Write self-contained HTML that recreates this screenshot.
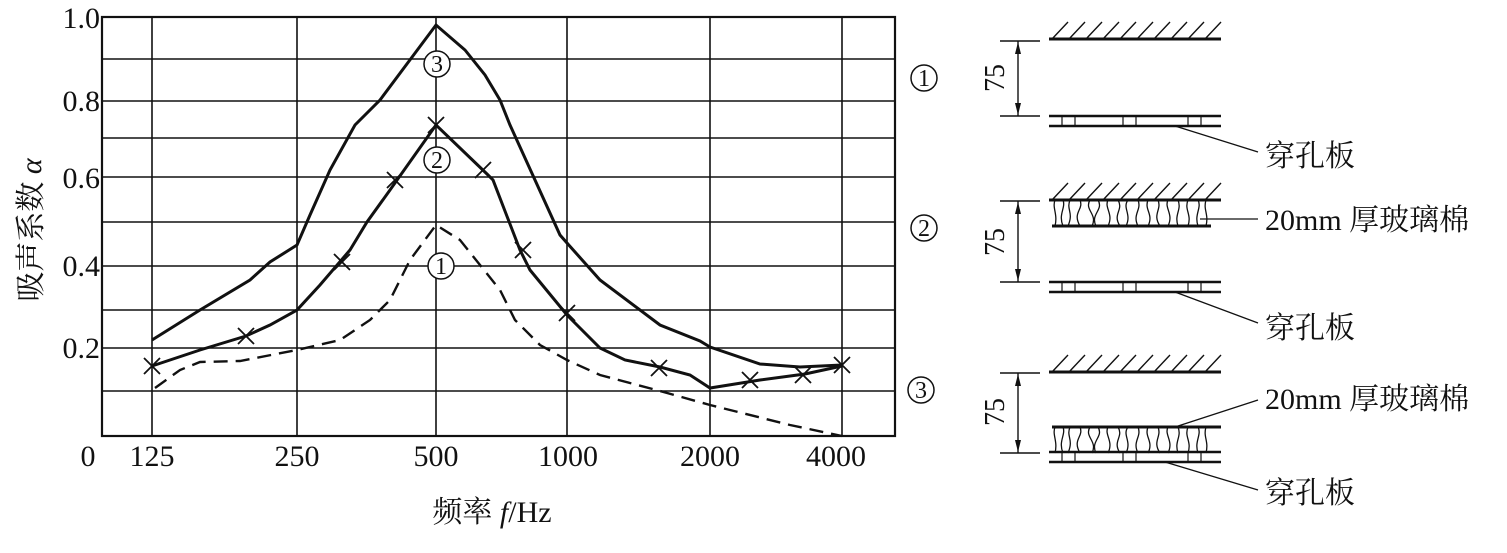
<!DOCTYPE html>
<html><head><meta charset="utf-8"><style>
html,body{margin:0;padding:0;background:#fff}
svg{display:block}
text{font-family:"Liberation Serif","Noto Serif CJK SC","Noto Sans CJK SC",serif;fill:#111}
</style></head><body>
<svg width="1507" height="553" viewBox="0 0 1507 553" xmlns="http://www.w3.org/2000/svg">
<g stroke="#111" fill="none">
<g stroke-width="1.6">
<line x1="102" y1="59" x2="895" y2="59"/>
<line x1="102" y1="101" x2="895" y2="101"/>
<line x1="102" y1="138" x2="895" y2="138"/>
<line x1="102" y1="177" x2="895" y2="177"/>
<line x1="102" y1="222" x2="895" y2="222"/>
<line x1="102" y1="266" x2="895" y2="266"/>
<line x1="102" y1="310" x2="895" y2="310"/>
<line x1="102" y1="348" x2="895" y2="348"/>
<line x1="102" y1="391" x2="895" y2="391"/>
<line x1="152" y1="17" x2="152" y2="436"/>
<line x1="297" y1="17" x2="297" y2="436"/>
<line x1="436" y1="17" x2="436" y2="436"/>
<line x1="567" y1="17" x2="567" y2="436"/>
<line x1="710" y1="17" x2="710" y2="436"/>
<line x1="842" y1="17" x2="842" y2="436"/>
</g>
<rect x="102" y="17" width="793" height="419" stroke-width="2.2"/>
<polyline stroke-width="3" points="152,340 200,310 250,280 270,262 297,245 310,215 330,170 355,125 380,100 436,25 465,50 485,75 500,100 510,125 560,235 567,243 600,280 660,325 700,341 710,347 760,364 800,367 842,365"/>
<polyline stroke-width="3" points="152,366 200,350 246,336 270,325 297,310 320,285 350,250 367,222 390,190 436,125 487,174 493,180 520,250 530,270 567,315 600,348 625,360 660,367 690,375 710,388 760,380 805,374 842,366"/>
<g stroke-width="1.8">
<path d="M144,358l16,16M160,358l-16,16"/>
<path d="M238,328l16,16M254,328l-16,16"/>
<path d="M334,254l16,16M350,254l-16,16"/>
<path d="M387,172l16,16M403,172l-16,16"/>
<path d="M428,117l16,16M444,117l-16,16"/>
<path d="M475,162l16,16M491,162l-16,16"/>
<path d="M515,242l16,16M531,242l-16,16"/>
<path d="M559,305l16,16M575,305l-16,16"/>
<path d="M651,360l16,16M667,360l-16,16"/>
<path d="M742,372l16,16M758,372l-16,16"/>
<path d="M795,367l16,16M811,367l-16,16"/>
<path d="M834,357l16,16M850,357l-16,16"/>
</g>
<polyline stroke-width="2.4" stroke-dasharray="14,8" points="155,388 180,370 200,362 240,361 297,350 340,340 370,320 390,300 410,260 436,225 460,240 480,265 500,290 515,320 540,345 567,360 600,375 660,391 710,405 790,425 842,436"/>
</g>
<!-- circled labels -->
<g stroke="#111" stroke-width="1.5" fill="#fff">
<circle cx="437" cy="64" r="13"/>
<circle cx="437" cy="160" r="13"/>
<circle cx="441" cy="266" r="13"/>
<circle cx="924" cy="78" r="13"/>
<circle cx="924" cy="228" r="13"/>
<circle cx="921" cy="390" r="13"/>
</g>
<g font-size="24" text-anchor="middle">
<text x="437" y="72">3</text>
<text x="437" y="168">2</text>
<text x="441" y="274">1</text>
<text x="924" y="86">1</text>
<text x="924" y="236">2</text>
<text x="921" y="398">3</text>
</g>
<g font-size="30" text-anchor="end">
<text x="100" y="28">1.0</text>
<text x="100" y="111">0.8</text>
<text x="100" y="188">0.6</text>
<text x="100" y="276">0.4</text>
<text x="100" y="358">0.2</text>
</g>
<g font-size="30" text-anchor="middle">
<text x="88" y="466">0</text>
<text x="152" y="466">125</text>
<text x="297" y="466">250</text>
<text x="436" y="466">500</text>
<text x="568" y="466">1000</text>
<text x="710" y="466">2000</text>
<text x="836" y="466">4000</text>
<text x="492" y="522">频率 <tspan font-style="italic">f</tspan>/Hz</text>
</g>
<text font-size="30" text-anchor="middle" transform="translate(41,230) rotate(-90)">吸声系数 <tspan font-style="italic">α</tspan></text>

<defs>
<g id="hatch" stroke="#111" stroke-width="1.4">
<line x1="1052" y1="39" x2="1068" y2="22"/><line x1="1069" y1="39" x2="1085" y2="22"/><line x1="1086" y1="39" x2="1102" y2="22"/><line x1="1103" y1="39" x2="1119" y2="22"/><line x1="1120" y1="39" x2="1136" y2="22"/><line x1="1137" y1="39" x2="1153" y2="22"/><line x1="1154" y1="39" x2="1170" y2="22"/><line x1="1171" y1="39" x2="1187" y2="22"/><line x1="1188" y1="39" x2="1204" y2="22"/><line x1="1205" y1="39" x2="1221" y2="22"/>
<line x1="1049" y1="39" x2="1221" y2="39" stroke-width="3"/>
</g>
<g id="plate" stroke="#111">
<line x1="1049" y1="116" x2="1221" y2="116" stroke-width="2.4"/>
<line x1="1049" y1="126" x2="1221" y2="126" stroke-width="2.4"/>
<g stroke-width="1.2"><line x1="1062" y1="116" x2="1062" y2="126"/><line x1="1075" y1="116" x2="1075" y2="126"/><line x1="1123" y1="116" x2="1123" y2="126"/><line x1="1136" y1="116" x2="1136" y2="126"/><line x1="1188" y1="116" x2="1188" y2="126"/><line x1="1201" y1="116" x2="1201" y2="126"/></g>
</g>
<g id="wool" stroke="#111" stroke-width="1.3" fill="none">
<path d="M1055,0c-3,8 3,14 0,26 M1063,0c3,8 -5,14 0,26 M1070,0c-4,10 4,12 -2,26 M1080,0c4,10 -8,12 0,26 M1090,0c-6,10 8,14 2,26 M1098,0c6,10 -8,14 -2,26 M1108,0c-4,8 6,14 0,26 M1118,0c6,10 -6,14 2,26 M1128,0c-6,8 4,14 -2,26 M1138,0c4,10 -6,14 0,26 M1148,0c-4,10 6,14 0,26 M1158,0c4,10 -6,14 2,26 M1168,0c-4,8 6,14 0,26 M1178,0c4,10 -4,14 0,26 M1188,0c-4,10 4,14 0,26 M1198,0c4,8 -4,14 0,26 M1206,0c-3,10 3,14 0,26"/>
</g>
</defs>
<g stroke="#111" stroke-width="1.4" fill="#111">
<line x1="1000" y1="41" x2="1040" y2="41"/><line x1="1000" y1="116" x2="1040" y2="116"/><line x1="1018" y1="41" x2="1018" y2="116"/>
<path d="M1018,42l-3,12h6z M1018,115l-3,-12h6z" stroke="none"/>
<line x1="1000" y1="201" x2="1040" y2="201"/><line x1="1000" y1="282" x2="1040" y2="282"/><line x1="1018" y1="201" x2="1018" y2="282"/>
<path d="M1018,202l-3,12h6z M1018,281l-3,-12h6z" stroke="none"/>
<line x1="1000" y1="373" x2="1040" y2="373"/><line x1="1000" y1="453" x2="1040" y2="453"/><line x1="1018" y1="373" x2="1018" y2="453"/>
<path d="M1018,374l-3,12h6z M1018,452l-3,-12h6z" stroke="none"/>
</g>
<use href="#hatch"/><use href="#plate"/>
<text font-size="28" text-anchor="middle" transform="translate(1004,78) rotate(-90)">75</text>
<line x1="1175" y1="126" x2="1258" y2="152" stroke="#111" stroke-width="1.3"/>
<text x="1265" y="166" font-size="30">穿孔板</text>
<g transform="translate(0,161)"><use href="#hatch"/></g>
<line x1="1052" y1="226" x2="1211" y2="226" stroke="#111" stroke-width="3"/>
<g transform="translate(0,200)"><use href="#wool"/></g>
<g transform="translate(0,166)"><use href="#plate"/></g>
<text font-size="28" text-anchor="middle" transform="translate(1004,242) rotate(-90)">75</text>
<line x1="1200" y1="219" x2="1258" y2="219" stroke="#111" stroke-width="1.3"/>
<text x="1265" y="230" font-size="30">20mm 厚玻璃棉</text>
<line x1="1175" y1="292" x2="1258" y2="323" stroke="#111" stroke-width="1.3"/>
<text x="1265" y="338" font-size="30">穿孔板</text>
<g transform="translate(0,333)"><use href="#hatch"/></g>
<line x1="1052" y1="427" x2="1221" y2="427" stroke="#111" stroke-width="3"/>
<g transform="translate(0,427)"><use href="#wool"/></g>
<g transform="translate(0,336)"><use href="#plate"/></g>
<text font-size="28" text-anchor="middle" transform="translate(1004,412) rotate(-90)">75</text>
<line x1="1175" y1="427" x2="1258" y2="400" stroke="#111" stroke-width="1.3"/>
<text x="1265" y="409" font-size="30">20mm 厚玻璃棉</text>
<line x1="1165" y1="462" x2="1258" y2="490" stroke="#111" stroke-width="1.3"/>
<text x="1265" y="503" font-size="30">穿孔板</text>
</svg>
</body></html>
